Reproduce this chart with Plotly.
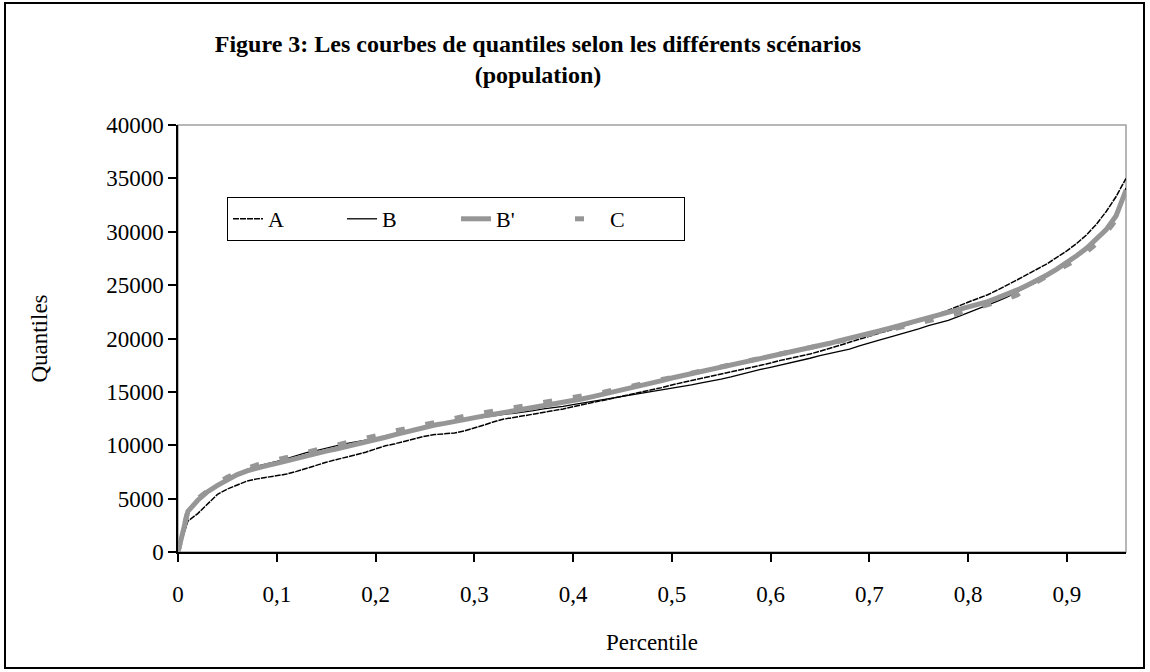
import plotly.graph_objects as go

# Percentiles 0 .. 0.96 in steps of 0.01
percentiles = [round(i / 100, 2) for i in range(97)]

quant_a = [
    0, 2900, 3600, 4500, 5400, 5900, 6300, 6650, 6850, 7000,
    7150, 7300, 7550, 7850, 8100, 8400, 8650, 8850, 9100, 9350,
    9650, 9950, 10150, 10400, 10650, 10850, 11000, 11050, 11150, 11350,
    11600, 11900, 12200, 12450, 12600, 12750, 12900, 13050, 13200, 13400,
    13600, 13800, 13950, 14150, 14350, 14600, 14800, 15000, 15200, 15400,
    15650, 15850, 16050, 16250, 16450, 16650, 16850, 17050, 17300, 17500,
    17700, 17950, 18150, 18300, 18550, 18800, 19050, 19350, 19650, 19950,
    20250, 20500, 20750, 21000, 21300, 21650, 21950, 22300, 22650, 23050,
    23400, 23750, 24100, 24550, 25000, 25500, 26000, 26500, 27000, 27600,
    28200, 28900, 29700, 30700, 31900, 33300, 35000,
]

quant_b = [
    0, 3900, 4900, 5700, 6350, 6900, 7350, 7750, 8050, 8250,
    8500, 8750, 9050, 9300, 9500, 9750, 9950, 10150, 10300, 10450,
    10650, 10850, 11050, 11250, 11450, 11650, 11850, 12050, 12200, 12350,
    12500, 12650, 12800, 12900, 13000, 13100, 13250, 13400, 13500, 13650,
    13800, 13950, 14100, 14250, 14400, 14550, 14700, 14850, 15000, 15150,
    15300, 15450, 15650, 15850, 16000, 16200, 16400, 16650, 16850, 17100,
    17300, 17500, 17750, 17950, 18150, 18400, 18600, 18800, 19000, 19300,
    19600, 19850, 20100, 20350, 20650, 20900, 21200, 21450, 21700, 22050,
    22400, 22800, 23150, 23500, 23900, 24350, 24800, 25300, 25850, 26450,
    27100, 27800, 28550, 29400, 30400, 31700, 34100,
]

quant_b2 = [
    0, 3800, 4850, 5650, 6250, 6800, 7250, 7600, 7900, 8100,
    8300, 8550, 8800, 9050, 9250, 9450, 9650, 9850, 10050, 10250,
    10500, 10750, 11000, 11250, 11450, 11700, 11900, 12050, 12250, 12450,
    12600, 12750, 12900, 13050, 13200, 13350, 13500, 13650, 13800, 13950,
    14150, 14350, 14550, 14750, 14950, 15150, 15400, 15600, 15850, 16050,
    16300, 16500, 16700, 16900, 17100, 17300, 17500, 17700, 17900, 18100,
    18250, 18450, 18650, 18900, 19100, 19350, 19550, 19800, 20000, 20250,
    20450, 20700, 20950, 21200, 21400, 21600, 21850, 22100, 22350, 22600,
    22850, 23150, 23450, 23800, 24150, 24550, 25000, 25450, 25950, 26500,
    27100, 27750, 28450, 29250, 30200, 31500, 33900,
]

quant_c = [
    0, 3900, 5000, 5800, 6450, 7000, 7450, 7850, 8150, 8400,
    8600, 8850, 9100, 9350, 9550, 9800, 10000, 10200, 10400, 10600,
    10850, 11100, 11350, 11550, 11750, 12000, 12200, 12350, 12550, 12750,
    12900, 13050, 13200, 13350, 13500, 13650, 13800, 13950, 14100, 14250,
    14400, 14600, 14800, 14950, 15150, 15350, 15550, 15750, 15950, 16150,
    16350, 16550, 16750, 16950, 17150, 17300, 17500, 17700, 17900, 18100,
    18250, 18450, 18650, 18850, 19050, 19300, 19500, 19750, 19950, 20150,
    20400, 20600, 20850, 21050, 21250, 21450, 21650, 21900, 22100, 22350,
    22600, 22850, 23150, 23450, 23750, 24100, 24800, 25300, 25800, 26350,
    26850, 27400, 28100, 28900, 29950, 31200, 32300,
]

series_names = ["A", "B", "B'", "C"]

x_tick_vals = [0, 0.1, 0.2, 0.3, 0.4, 0.5, 0.6, 0.7, 0.8, 0.9]
x_tick_text = ["0", "0,1", "0,2", "0,3", "0,4", "0,5", "0,6", "0,7", "0,8", "0,9"]
y_tick_vals = [0, 5000, 10000, 15000, 20000, 25000, 30000, 35000, 40000]
y_tick_text = [str(v) for v in y_tick_vals]

FONT = "Liberation Serif, Times New Roman, serif"
GREY = "rgb(150,150,150)"

# Plot-area geometry in pixels (figure is 1150 x 672)
W, H = 1150, 672
L, R, T, B = 178, 24, 125, 120
PW, PH = W - L - R, H - T - B


def px_x(p):
    return (p - L) / PW


def px_y(p):
    return (H - B - p) / PH


fig = go.Figure()

styles = [
    dict(color="black", width=1.5, dash="6px,1px"),
    dict(color="black", width=1.3),
    dict(color=GREY, width=5),
    dict(color=GREY, width=5, dash="9px,21px"),
]
for name, ys, st in zip(series_names, [quant_a, quant_b, quant_b2, quant_c], styles):
    fig.add_trace(go.Scatter(
        x=percentiles, y=ys, mode="lines", name=name,
        line=st, hoverinfo="skip",
    ))

# grey frame of the plot area (top and right sides show grey)
fig.add_shape(type="rect", xref="paper", yref="paper", x0=0, y0=0, x1=1, y1=1,
              line=dict(color="rgb(160,160,160)", width=1.5), layer="below")
# black frame around the whole chart
fig.add_shape(type="rect", xref="paper", yref="paper",
              x0=px_x(5), x1=px_x(1144), y0=px_y(668), y1=px_y(3),
              line=dict(color="black", width=2))

fig.update_layout(
    width=W, height=H,
    margin=dict(l=L, r=R, t=T, b=B),
    paper_bgcolor="white", plot_bgcolor="white",
    font=dict(family=FONT, size=23, color="black"),
    title=dict(
        text="<b>Figure 3: Les courbes de quantiles selon les différents scénarios<br>(population)</b>",
        font=dict(family=FONT, size=24, color="black"),
        xref="container", yref="container",
        x=538 / W, xanchor="center", y=1 - 52 / H, yanchor="top",
    ),
    showlegend=True,
    legend=dict(
        orientation="h", x=px_x(227), y=px_y(197), xanchor="left", yanchor="top",
        bordercolor="black", borderwidth=1, bgcolor="white",
        font=dict(family=FONT, size=22, color="black"),
        itemwidth=30, entrywidth=69, entrywidthmode="pixels",
        tracegroupgap=0,
    ),
    xaxis=dict(
        range=[0, 0.96], tickvals=x_tick_vals, ticktext=x_tick_text,
        showgrid=False, zeroline=False, showline=True, linecolor="black", linewidth=1.5,
        ticks="outside", ticklen=8, tickwidth=1.5, tickcolor="black",
        ticklabelstandoff=13,
        title=dict(text="Percentile", standoff=28, font=dict(family=FONT, size=23)),
        tickfont=dict(family=FONT, size=23),
    ),
    yaxis=dict(
        range=[0, 40000], tickvals=y_tick_vals, ticktext=y_tick_text,
        showgrid=False, zeroline=False, showline=True, linecolor="black", linewidth=1.5,
        ticks="outside", ticklen=8, tickwidth=1.5, tickcolor="black",
        title=dict(text="Quantiles", standoff=52, font=dict(family=FONT, size=23)),
        tickfont=dict(family=FONT, size=23),
    ),
)

fig.write_html("out.html")
